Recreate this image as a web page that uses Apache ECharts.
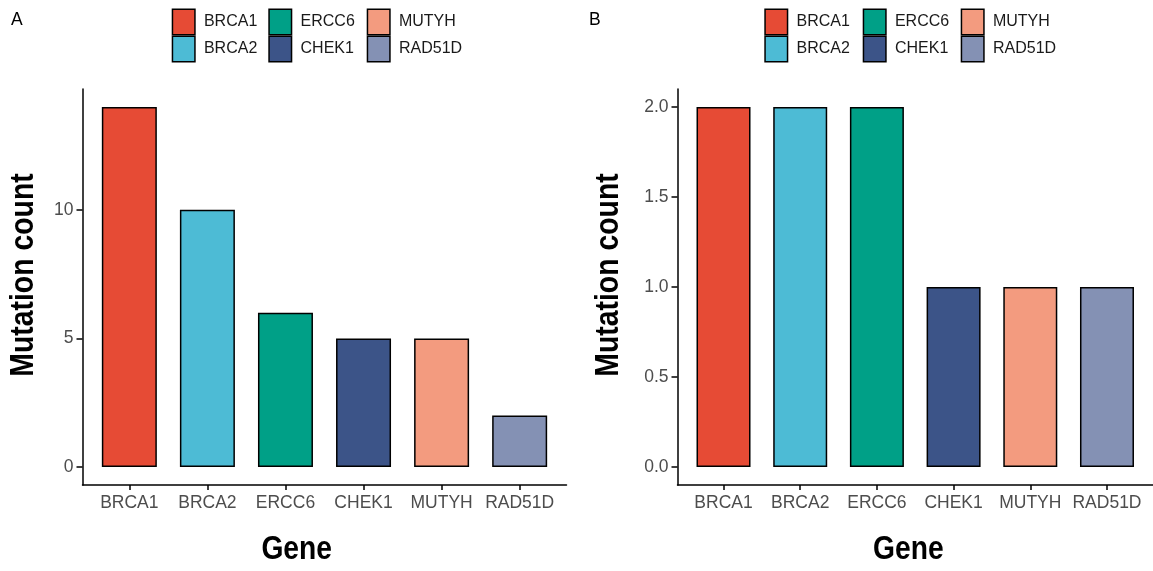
<!DOCTYPE html>
<html>
<head>
<meta charset="utf-8">
<script src="https://cdn.jsdelivr.net/npm/echarts@6/dist/echarts.min.js"></script>
<style>
html,body{margin:0;padding:0;background:#fff;}
#chart{width:1153px;height:571px;}
</style>
</head>
<body>
<div id="chart"></div>
<script>
// ---- data ----
var genes = ['BRCA1', 'BRCA2', 'ERCC6', 'CHEK1', 'MUTYH', 'RAD51D'];
var colors = ['#E64B35', '#4DBBD5', '#00A087', '#3C5488', '#F39B7F', '#8491B4'];
var countsA = [14, 10, 6, 5, 5, 2];
var countsB = [2, 2, 2, 1, 1, 1];
var yTicksA = [0, 5, 10];
var yTicksB = [0, 0.5, 1, 1.5, 2];
var panelLabels = ['A', 'B'];
var xTitle = 'Gene';
var yTitle = 'Mutation count';

// ---- layout ----
var tickFont = '"Liberation Sans", Arial, sans-serif';
var titleFontCss = 'bold 33px "Liberation Sans", Arial, sans-serif';
var positions = [1, 2, 3, 4, 5, 6];

var panels = [
  {grid: {left: 82.5, top: 89, width: 484, height: 396}, ymin: -0.7, ymax: 14.7, ticks: yTicksA, data: countsA,
   fmt: function (v) { return String(v); }, barW: 55, legX: [171.7, 268.3, 366.7],
   xTitlePos: [296.7, 549.7], yTitlePos: [23.5, 275], labelPos: [11, 11]},
  {grid: {left: 677.5, top: 89, width: 478, height: 396}, ymin: -0.1, ymax: 2.1, ticks: yTicksB, data: countsB,
   fmt: function (v) { return v.toFixed(1); }, barW: 54, legX: [764.3, 862.7, 960.7],
   xTitlePos: [908.3, 549.7], yTitlePos: [608.5, 275], labelPos: [589, 11]}
];

var grids = [], xAxes = [], yAxes = [], series = [], legends = [], titles = [], graphics = [];
panels.forEach(function (p, pi) {
  grids.push(p.grid);
  xAxes.push({
    type: 'value', gridIndex: pi, min: 0.4, max: 6.6,
    axisLine: {show: true, onZero: false, lineStyle: {color: '#000', width: 1.5}},
    axisTick: {show: true, length: 5, customValues: positions, lineStyle: {color: '#000', width: 1.5}},
    axisLabel: {customValues: positions, margin: 9, fontFamily: tickFont, fontSize: 17.5, color: '#4D4D4D',
      formatter: function (v) { return genes[Math.round(v) - 1]; }},
    splitLine: {show: false}
  });
  yAxes.push({
    type: 'value', gridIndex: pi, min: p.ymin, max: p.ymax,
    axisLine: {show: true, onZero: false, lineStyle: {color: '#000', width: 1.5}},
    axisTick: {show: true, length: 6, customValues: p.ticks, lineStyle: {color: '#000', width: 1.5}},
    axisLabel: {customValues: p.ticks, margin: 9, fontFamily: tickFont, fontSize: 17.5, color: '#4D4D4D', formatter: p.fmt},
    splitLine: {show: false}
  });
  genes.forEach(function (g, i) {
    series.push({
      type: 'bar', name: g, xAxisIndex: pi, yAxisIndex: pi,
      data: [[positions[i], p.data[i]]],
      barWidth: p.barW, barGap: '-100%',
      itemStyle: {color: colors[i], borderColor: '#000', borderWidth: 1.5},
      emphasis: {disabled: true}, animation: false
    });
  });
  for (var c = 0; c < 3; c++) {
    legends.push({
      orient: 'vertical', left: p.legX[c], top: 8.5, padding: 0, itemGap: 0, itemWidth: 22.5, itemHeight: 25.5,
      icon: 'rect', selectedMode: false,
      data: [genes[c * 2], genes[c * 2 + 1]],
      itemStyle: {borderColor: '#000', borderWidth: 1.5},
      textStyle: {fontFamily: tickFont, fontSize: 16, color: '#1A1A1A', padding: [0, 0, 0, 4]}
    });
  }
  titles.push({
    text: panelLabels[pi], left: p.labelPos[0], top: p.labelPos[1], padding: 0,
    textStyle: {fontFamily: tickFont, fontSize: 17.5, fontWeight: 'normal', color: '#000'}
  });
  graphics.push({
    type: 'text', x: p.xTitlePos[0], y: p.xTitlePos[1], scaleX: 0.855, silent: true,
    style: {text: xTitle, font: titleFontCss, fill: '#000', align: 'center', verticalAlign: 'middle'}
  });
  graphics.push({
    type: 'text', x: p.yTitlePos[0], y: p.yTitlePos[1], rotation: Math.PI / 2, scaleX: 0.86, silent: true,
    style: {text: yTitle, font: titleFontCss, fill: '#000', align: 'center', verticalAlign: 'middle'}
  });
});

var chart = echarts.init(document.getElementById('chart'), null, {renderer: 'canvas'});
chart.setOption({
  animation: false,
  backgroundColor: '#fff',
  title: titles,
  legend: legends,
  grid: grids,
  xAxis: xAxes,
  yAxis: yAxes,
  series: series,
  graphic: graphics
});
</script>
</body>
</html>
